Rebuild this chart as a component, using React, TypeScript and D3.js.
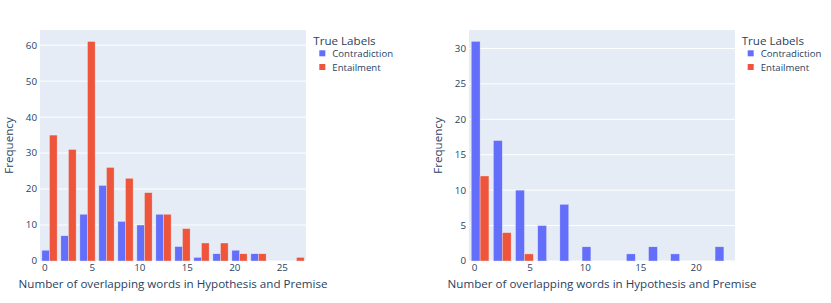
import React from 'react';
import * as d3 from 'd3';

// ---- Data ----
const binStart = -0.5;
const binSize = 2;

const leftContradiction = [3, 7, 13, 21, 11, 10, 13, 4, 1, 2, 3, 2, 0, 0];
const leftEntailment = [35, 31, 61, 26, 23, 19, 13, 9, 5, 5, 2, 2, 0, 1];
const leftXTicks = [0, 5, 10, 15, 20, 25];
const leftYTicks = [0, 10, 20, 30, 40, 50, 60];

const rightContradiction = [31, 17, 10, 5, 8, 2, 0, 1, 2, 1, 0, 2];
const rightEntailment = [12, 4, 1, 0, 0, 0, 0, 0, 0, 0, 0, 0];
const rightXTicks = [0, 5, 10, 15, 20];
const rightYTicks = [0, 5, 10, 15, 20, 25, 30];

const seriesNames = ['Contradiction', 'Entailment'];
const legendTitle = 'True Labels';
const xTitle = 'Number of overlapping words in Hypothesis and Premise';
const yTitle = 'Frequency';

const COLORS = ['#636EFA', '#EF553B'];
const BG = '#E5ECF6';
const TEXT = '#2a3f5f';
const FONT = '"Open Sans", Verdana, Arial, sans-serif';

type PanelProps = {
  left: number;
  right: number;
  top: number;
  bottom: number;
  contradiction: number[];
  entailment: number[];
  xTicks: number[];
  yTicks: number[];
  yMax: number;
  yTitleX: number;
  legendX: number;
};

function Panel(p: PanelProps) {
  const nBins = p.contradiction.length;
  const x = d3
    .scaleLinear()
    .domain([binStart, binStart + binSize * nBins])
    .range([p.left, p.right]);
  const y = d3.scaleLinear().domain([0, p.yMax]).range([p.bottom, p.top]);
  const gap = 0.2 * binSize / 2; // bargap 0.2 split on each side
  const barW = (binSize - 2 * gap) / 2;
  const series = [p.contradiction, p.entailment];
  const cx = (p.left + p.right) / 2;
  const cy = (p.top + p.bottom) / 2;
  return (
    <g fontFamily={FONT} fill={TEXT}>
      <rect x={p.left} y={p.top} width={p.right - p.left} height={p.bottom - p.top} fill={BG} />
      {p.yTicks.map((t) => (
        <line key={'g' + t} x1={p.left} x2={p.right} y1={y(t)} y2={y(t)} stroke="#fff" strokeWidth={1} />
      ))}
      {series.map((vals, si) =>
        vals.map((v, i) => {
          if (v <= 0) return null;
          const x0 = binStart + i * binSize + gap + si * barW;
          return (
            <rect
              key={si + '-' + i}
              x={x(x0)}
              width={x(x0 + barW) - x(x0)}
              y={y(v)}
              height={y(0) - y(v)}
              fill={COLORS[si]}
              stroke={BG}
              strokeWidth={0.4}
            />
          );
        })
      )}
      {p.yTicks.map((t) => (
        <text key={'yt' + t} x={p.left - 3} y={y(t)} dy="0.35em" textAnchor="end" fontSize={9.8}>
          {t}
        </text>
      ))}
      {p.xTicks.map((t) => (
        <text key={'xt' + t} x={x(t)} y={p.bottom + 9.5} textAnchor="middle" fontSize={9.8}>
          {t}
        </text>
      ))}
      <text x={cx} y={287.5} textAnchor="middle" fontSize={11.6}>
        {xTitle}
      </text>
      <text
        transform={`translate(${p.yTitleX},${cy}) rotate(-90)`}
        textAnchor="middle"
        fontSize={11.6}
      >
        {yTitle}
      </text>
      <text x={p.legendX} y={44.5} fontSize={11.6}>
        {legendTitle}
      </text>
      {seriesNames.map((name, i) => (
        <g key={name}>
          <rect x={p.legendX + 6} y={50.3 + i * 13.7} width={6} height={6} fill={COLORS[i]} />
          <text x={p.legendX + 19} y={57.3 + i * 13.7} fontSize={9.6}>
            {name}
          </text>
        </g>
      ))}
    </g>
  );
}

export default function App() {
  return (
    <svg
      width={831}
      height={303}
      style={{ position: 'absolute', left: 0, top: 0, background: '#fff' }}
    >
      <Panel
        left={40}
        right={306}
        top={30}
        bottom={261}
        contradiction={leftContradiction}
        entailment={leftEntailment}
        xTicks={leftXTicks}
        yTicks={leftYTicks}
        yMax={64.2}
        yTitleX={12.5}
        legendX={313.3}
      />
      <Panel
        left={469}
        right={735}
        top={30}
        bottom={261}
        contradiction={rightContradiction}
        entailment={rightEntailment}
        xTicks={rightXTicks}
        yTicks={rightYTicks}
        yMax={32.6}
        yTitleX={441.5}
        legendX={741.7}
      />
    </svg>
  );
}
